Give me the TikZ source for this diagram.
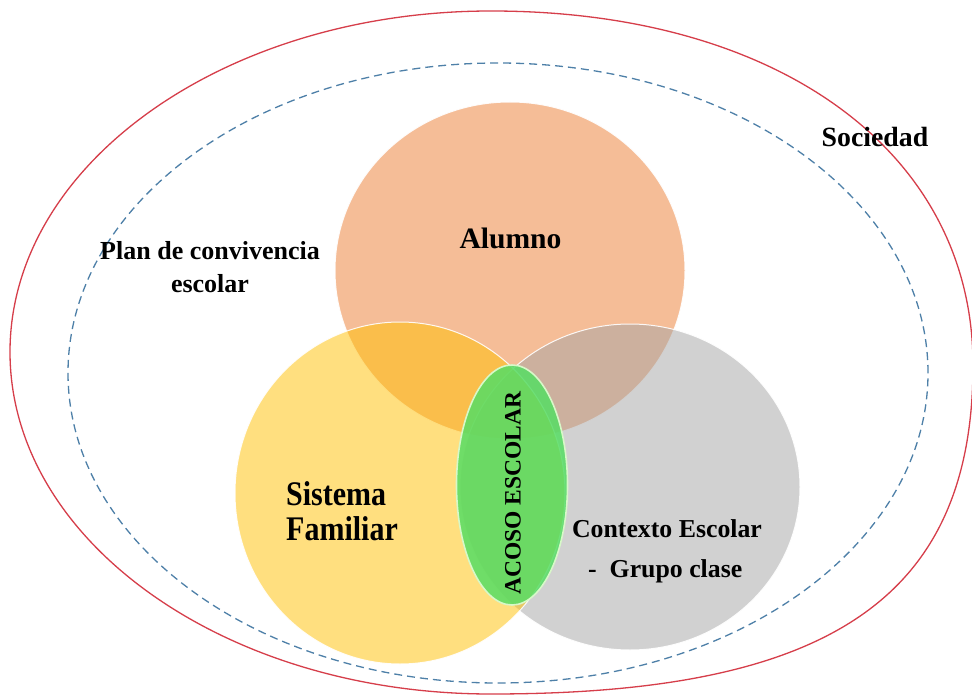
\documentclass[tikz,border=0pt]{standalone}
\usepackage{fontspec}
\setmainfont{Liberation Serif}
\usetikzlibrary{shapes.geometric}
\definecolor{ringred}{RGB}{214,62,74}
\definecolor{ringblue}{RGB}{78,128,168}
\definecolor{alumnoC}{HTML}{ED7D31}
\definecolor{familiaC}{HTML}{FFC000}
\definecolor{contextoC}{HTML}{A5A5A5}
\definecolor{acosoC}{RGB}{86,221,100}
\definecolor{acosoB}{RGB}{215,248,200}
\begin{document}
\begin{tikzpicture}[x=1pt,y=-1pt,
  ring/.style={ellipse, inner sep=0pt, outer sep=0pt},
  venn/.style={ellipse, inner sep=0pt, outer sep=0pt, draw=white, line width=1pt, fill opacity=0.5, draw opacity=0.9},
  lbl/.style={inner sep=0pt, text=black, font=\bfseries\fontsize{#1}{#1}\selectfont},
  lbl/.default=26]
\path[use as bounding box] (0,0) rectangle (972,695);
\fill[white] (0,0) rectangle (972,695);
% outer ring (Sociedad), fuller on the lower right as in the reference
\draw[ringred, line width=1.3pt]
  (491,11) .. controls (780,11) and (973,153) .. (973,365)
           .. controls (973,599) and (828,694) .. (491,694)
           .. controls (225,694) and (10,541) .. (10,352)
           .. controls (10,164) and (225,11) .. cycle;
\node[ring, draw=ringblue, dash pattern=on 8pt off 5pt, line width=1.3pt, minimum width=860pt, minimum height=620pt] (planring) at (498,373) {};
% Venn ellipses
\node[venn, fill=alumnoC, minimum width=350pt, minimum height=337pt] (alumno) at (510,270.5) {};
\node[venn, fill=contextoC, minimum width=340pt, minimum height=326pt] (contexto) at (630,487) {};
\node[venn, fill=familiaC, minimum width=330pt, minimum height=342pt] (familia) at (400,493) {};
\node[ellipse, inner sep=0pt, fill=acosoC, fill opacity=0.85, draw=acosoB, line width=1.6pt, minimum width=111pt, minimum height=240pt] (acoso) at (512,485) {};
% texts
\node[lbl=29.6, anchor=base] (talumno) at (510.5,249) {Alumno};
\node[lbl=26, anchor=base] (tplan1) at (210,260) {Plan de convivencia};
\node[lbl=26, anchor=base] (tplan2) at (210,292) {escolar};
\node[lbl=27.8, anchor=base] (tsociedad) at (875,147) {Sociedad};
\node[lbl=30, anchor=base west] (tsistema) at (286,505) {\scalebox{1}[1.15]{Sistema}};
\node[lbl=30, anchor=base west] (tfamiliar) at (286,540) {\scalebox{1}[1.15]{Familiar}};
\node[lbl=25.8, anchor=base] (tcontexto) at (667,537) {Contexto Escolar};
\node[lbl=25.8, anchor=base west] (tgrupo) at (588,577) {-~~Grupo clase};
\node[lbl=23.5, rotate=90] (tacoso) at (513,493) {ACOSO ESCOLAR};
\end{tikzpicture}
\end{document}
